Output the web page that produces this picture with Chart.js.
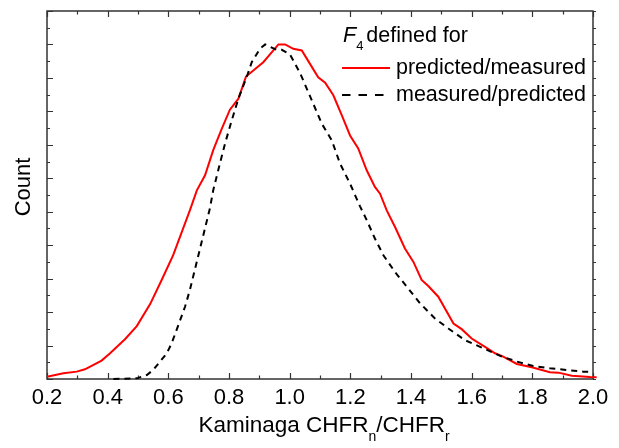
<!DOCTYPE html>
<html>
<head>
<meta charset="utf-8">
<script src="https://cdn.jsdelivr.net/npm/chart.js@4.4.1/dist/chart.umd.min.js"></script>
<style>
  html, body { margin: 0; padding: 0; background: #fff; }
</style>
</head>
<body>
<canvas id="chart" width="619" height="448"></canvas>
<script>
// данные: predicted/measured (красная) и measured/predicted (чёрная пунктирная)
const redX = [0.20, 0.254, 0.298, 0.325, 0.380, 0.408, 0.457, 0.496, 0.540, 0.578, 0.616, 0.671, 0.694, 0.721, 0.748, 0.776, 0.803, 0.831, 0.856, 0.913, 0.963, 0.985, 1.012, 1.040, 1.067, 1.094, 1.117, 1.144, 1.172, 1.199, 1.226, 1.254, 1.281, 1.298, 1.320, 1.347, 1.380, 1.408, 1.435, 1.457, 1.490, 1.540, 1.567, 1.600, 1.644, 1.677, 1.704, 1.749, 1.798, 1.858, 1.886, 1.930, 1.990, 2.012];
const redY = [0.007, 0.017, 0.022, 0.029, 0.055, 0.077, 0.119, 0.158, 0.224, 0.296, 0.370, 0.504, 0.564, 0.609, 0.684, 0.748, 0.805, 0.838, 0.904, 0.947, 1.000, 1.000, 0.987, 0.982, 0.942, 0.902, 0.886, 0.848, 0.788, 0.728, 0.689, 0.624, 0.574, 0.554, 0.504, 0.455, 0.390, 0.350, 0.296, 0.278, 0.246, 0.166, 0.149, 0.121, 0.096, 0.077, 0.067, 0.045, 0.035, 0.020, 0.019, 0.010, 0.006, 0.005];

const blackX = [0.419, 0.496, 0.529, 0.550, 0.595, 0.611, 0.633, 0.655, 0.671, 0.737, 0.748, 0.770, 0.787, 0.809, 0.831, 0.858, 0.875, 0.902, 0.919, 0.957, 0.974, 1.001, 1.034, 1.073, 1.106, 1.139, 1.166, 1.199, 1.232, 1.254, 1.281, 1.309, 1.347, 1.386, 1.430, 1.479, 1.523, 1.578, 1.638, 1.694, 1.749, 1.803, 1.858, 1.913, 1.968, 1.990];
const blackY = [0.000, 0.002, 0.012, 0.027, 0.077, 0.107, 0.161, 0.216, 0.266, 0.510, 0.564, 0.644, 0.704, 0.773, 0.838, 0.902, 0.947, 0.987, 1.000, 0.984, 0.984, 0.970, 0.915, 0.833, 0.763, 0.713, 0.644, 0.584, 0.516, 0.475, 0.420, 0.370, 0.320, 0.276, 0.226, 0.181, 0.151, 0.116, 0.092, 0.069, 0.052, 0.039, 0.032, 0.027, 0.022, 0.022];

const xTickLabels = ['0.2', '0.4', '0.6', '0.8', '1.0', '1.2', '1.4', '1.6', '1.8', '2.0'];
const seriesNames = ['predicted/measured', 'measured/predicted'];

const FONT = '"Liberation Sans", Arial, sans-serif';
const AXIS_COLOR = '#333';

function toPoints(xs, ys) {
    return xs.map((x, i) => ({ x: x, y: ys[i] }));
}

// рамка, засечки, подписи, легенда
const framePlugin = {
    id: 'frame',
    beforeDatasetsDraw(chart) {
        const ctx = chart.ctx;
        const a = chart.chartArea;
        const xs = chart.scales.x;
        const ys = chart.scales.y;
        ctx.save();
        ctx.strokeStyle = AXIS_COLOR;
        ctx.lineWidth = 1.5;
        ctx.strokeRect(a.left, a.top, a.right - a.left, a.bottom - a.top);

        ctx.lineWidth = 1.2;
        ctx.beginPath();
        // засечки по X (каждые 0.1, крупные на 0.2)
        for (let i = 0; i <= 18; i++) {
            const v = 0.2 + i * 0.1;
            const px = Math.round(xs.getPixelForValue(v)) + 0.5;
            const len = (i % 2 === 0) ? 6 : 3.5;
            ctx.moveTo(px, a.bottom);
            ctx.lineTo(px, a.bottom - len);
            ctx.moveTo(px, a.top);
            ctx.lineTo(px, a.top + len);
        }
        // засечки по Y (каждые 0.05)
        for (let i = 0; i <= 22; i++) {
            const v = i * 0.05;
            const py = Math.round(ys.getPixelForValue(v)) + 0.5;
            const len = (i % 2 === 0) ? 6 : 3;
            ctx.moveTo(a.left, py);
            ctx.lineTo(a.left + len, py);
            ctx.moveTo(a.right, py);
            ctx.lineTo(a.right + 3, py);
        }
        ctx.stroke();
        ctx.restore();
    },
    afterDraw(chart) {
        const ctx = chart.ctx;
        const a = chart.chartArea;
        const xs = chart.scales.x;
        ctx.save();
        ctx.fillStyle = '#000';

        // подписи делений
        ctx.font = '22px ' + FONT;
        ctx.textAlign = 'center';
        ctx.textBaseline = 'middle';
        xTickLabels.forEach(t => {
            ctx.fillText(t, xs.getPixelForValue(parseFloat(t)), 398);
        });

        // подпись оси X с индексами
        const parts = [
            ['Kaminaga CHFR', 22.5, 0],
            ['n', 14, 9],
            ['/CHFR', 22.5, 0],
            ['r', 14, 9]
        ];
        let total = 0;
        parts.forEach(p => {
            ctx.font = p[1] + 'px ' + FONT;
            total += ctx.measureText(p[0]).width;
        });
        let x = (a.left + a.right) / 2 - total / 2 + 4;
        ctx.textAlign = 'left';
        ctx.textBaseline = 'alphabetic';
        parts.forEach(p => {
            ctx.font = p[1] + 'px ' + FONT;
            ctx.fillText(p[0], x, 432 + p[2]);
            x += ctx.measureText(p[0]).width;
        });

        // подпись оси Y
        ctx.save();
        ctx.translate(24, 187);
        ctx.rotate(-Math.PI / 2);
        ctx.font = '22px ' + FONT;
        ctx.textAlign = 'center';
        ctx.textBaseline = 'middle';
        ctx.fillText('Count', 0, 0);
        ctx.restore();

        // легенда
        ctx.textAlign = 'left';
        ctx.textBaseline = 'alphabetic';
        ctx.font = 'italic 21.5px ' + FONT;
        ctx.fillText('F', 343, 42);
        let lx = 343 + ctx.measureText('F').width;
        ctx.font = '13px ' + FONT;
        ctx.fillText('4', lx, 50);
        lx += ctx.measureText('4').width + 3;
        ctx.font = '21.5px ' + FONT;
        ctx.fillText('defined for', lx, 42);

        ctx.lineWidth = 2;
        ctx.strokeStyle = '#ff0000';
        ctx.beginPath();
        ctx.moveTo(342, 68);
        ctx.lineTo(390, 68);
        ctx.stroke();
        ctx.strokeStyle = '#000';
        ctx.setLineDash([8.5, 8]);
        ctx.beginPath();
        ctx.moveTo(342, 95);
        ctx.lineTo(384, 95);
        ctx.stroke();
        ctx.setLineDash([]);

        ctx.textBaseline = 'middle';
        ctx.fillText(seriesNames[0], 396, 68);
        ctx.fillText(seriesNames[1], 396, 95);
        ctx.restore();
    }
};

const chart = new Chart(document.getElementById('chart'), {
    type: 'line',
    data: {
        datasets: [{
            label: seriesNames[1],
            data: toPoints(blackX, blackY),
            borderColor: '#000',
            borderWidth: 2,
            borderDash: [6, 5],
            pointRadius: 0,
            tension: 0,
            fill: false
        }, {
            label: seriesNames[0],
            data: toPoints(redX, redY),
            borderColor: '#ff0000',
            borderWidth: 2,
            pointRadius: 0,
            tension: 0,
            fill: false
        }]
    },
    options: {
        responsive: false,
        animation: false,
        devicePixelRatio: 1,
        clip: 4,
        layout: {
            padding: { left: 47, right: 26, top: 11, bottom: 69 }
        },
        plugins: {
            legend: { display: false },
            tooltip: { enabled: false }
        },
        scales: {
            x: { type: 'linear', min: 0.2, max: 2.0, display: false },
            y: { type: 'linear', min: 0, max: 1.1, display: false }
        }
    },
    plugins: [framePlugin]
});
</script>
</body>
</html>
